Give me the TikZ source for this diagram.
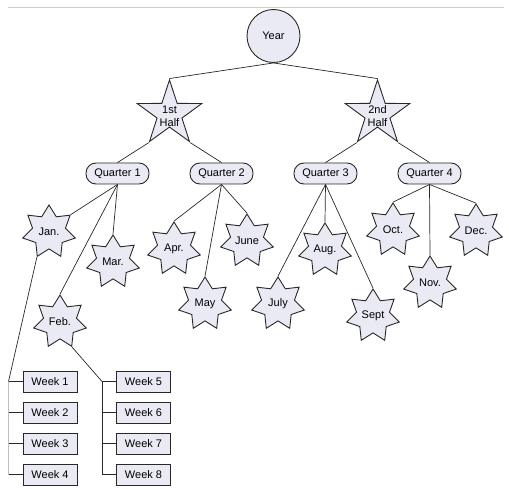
\documentclass[tikz,border=0pt]{standalone}
\usepackage{fontspec}
\setmainfont{Liberation Sans}
\usetikzlibrary{shapes.geometric,shapes.misc}
\definecolor{fillc}{RGB}{234,234,244}
\definecolor{linec}{RGB}{40,40,40}
\definecolor{topline}{RGB}{205,205,205}
\definecolor{brackgray}{RGB}{190,190,190}
\tikzset{
  base/.style={draw=linec, fill=fillc, line width=0.9pt, font=\fontsize{11}{12}\selectfont, inner sep=0pt},
  yearnode/.style={base, circle, minimum size=53pt},
  halfstar/.style={base, star, star points=5, star point ratio=2.6, minimum size=68pt},
  halftext/.style={font=\fontsize{11}{13}\selectfont, align=center, inner sep=0pt},
  qbox/.style={base, rectangle, rounded corners=10pt, minimum width=63pt, minimum height=21pt},
  mstar/.style={base, star, star points=7, star point ratio=1.6, minimum size=54pt},
  wbox/.style={base, rectangle, minimum width=54pt, minimum height=21pt},
  conn/.style={draw=linec, line width=0.7pt},
  lbrack/.style={draw=brackgray, line width=0.9pt},
}
\begin{document}
\begin{tikzpicture}[x=1pt,y=-1pt]
\useasboundingbox (0,0) rectangle (509,489);
\draw[topline, line width=1pt] (8,8) -- (504,8);

\node[yearnode] (year) at (273.5,36) {Year};
\node[halfstar] (h1) at (169.5,114) {};
\node[halftext] (h1t) at (169.5,116.5) {1st\\Half};
\node[halfstar] (h2) at (377.5,114) {};
\node[halftext] (h2t) at (377.5,116.5) {2nd\\Half};

\node[qbox] (q1) at (117.5,173.5) {Quarter 1};
\node[qbox] (q2) at (221.5,173.5) {Quarter 2};
\node[qbox] (q3) at (325.5,173.5) {Quarter 3};
\node[qbox] (q4) at (429.5,173.5) {Quarter 4};

\node[mstar] (jan) at (49,232) {Jan.};
\node[mstar] (feb) at (60,322) {Feb.};
\node[mstar] (mar) at (113,262) {Mar.};
\node[mstar] (apr) at (174,249) {Apr.};
\node[mstar] (may) at (205,304) {May};
\node[mstar] (jun) at (247,241) {June};
\node[mstar] (jul) at (278,304) {July};
\node[mstar] (aug) at (325,250) {Aug.};
\node[mstar] (sep) at (373,316) {Sept};
\node[mstar] (oct) at (393,230) {Oct.};
\node[mstar] (nov) at (430,283) {Nov.};
\node[mstar] (dec) at (476,231) {Dec.};

\node[wbox] (w1) at (50,381.5) {Week 1};
\node[wbox] (w2) at (50,412.5) {Week 2};
\node[wbox] (w3) at (50,443.5) {Week 3};
\node[wbox] (w4) at (50,474.5) {Week 4};
\node[wbox] (w5) at (143.5,381.5) {Week 5};
\node[wbox] (w6) at (143.5,412.5) {Week 6};
\node[wbox] (w7) at (143.5,443.5) {Week 7};
\node[wbox] (w8) at (143.5,474.5) {Week 8};

\coordinate (bl) at (8.5,381.5);
\coordinate (br) at (102,381.5);

% year to halves
\draw[conn] (year.south) -- (h1.outer point 1);
\draw[conn] (year.south) -- (h2.outer point 1);
% halves to quarters
\draw[conn] (h1.outer point 3) -- (q1.north);
\draw[conn] (h1.outer point 4) -- (q2.north);
\draw[conn] (h2.outer point 3) -- (q3.north);
\draw[conn] (h2.outer point 4) -- (q4.north);
% quarters to months
\draw[conn] (q1.south) -- (jan.outer point 7);
\draw[conn] (q1.south) -- (feb.outer point 1);
\draw[conn] (q1.south) -- (mar.outer point 1);
\draw[conn] (q2.south) -- (apr.outer point 1);
\draw[conn] (q2.south) -- (may.outer point 1);
\draw[conn] (q2.south) -- (jun.outer point 1);
\draw[conn] (q3.south) -- (jul.outer point 1);
\draw[conn] (q3.south) -- (aug.outer point 1);
\draw[conn] (q3.south) -- (sep.outer point 1);
\draw[conn] (q4.south) -- (oct.outer point 1);
\draw[conn] (q4.south) -- (nov.outer point 1);
\draw[conn] (q4.south) -- (dec.outer point 1);
% months to weeks
\draw[conn] (jan.outer point 4) -- (bl);
\draw[lbrack] (bl) -- (bl |- w4.west);
\foreach \w in {w1,w2,w3,w4} \draw[conn] (bl |- \w.west) -- (\w.west);
\draw[conn] (feb.outer point 5) -- (br);
\draw[conn] (br) -- (br |- w8.west);
\foreach \w in {w5,w6,w7,w8} \draw[conn] (br |- \w.west) -- (\w.west);
\end{tikzpicture}
\end{document}
